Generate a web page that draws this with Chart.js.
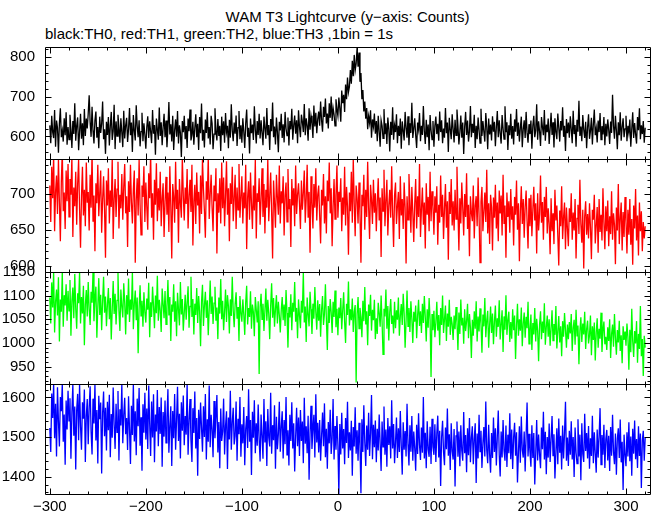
<!DOCTYPE html>
<html>
<head>
<meta charset="utf-8">
<title>WAM T3 Lightcurve</title>
<script src="https://cdn.jsdelivr.net/npm/chart.js@4.4.0/dist/chart.umd.min.js"></script>
<style>
  body { margin: 0; background: #fff; }
  #wrap { position: relative; width: 652px; height: 515px; overflow: hidden; font-family: 'Liberation Sans', Arial, sans-serif; color: #000; }
  .texto { position: absolute; font-size: 15px; line-height: 15px; white-space: nowrap; }
  canvas { position: absolute; left: 0; }
</style>
</head>
<body>
<div id="wrap">
  <div class="texto" style="left:0; width:695px; text-align:center; top:9px;">WAM T3 Lightcurve (y−axis: Counts)</div>
  <div class="texto" style="left:45px; top:26px;">black:TH0, red:TH1, green:TH2, blue:TH3 ,1bin = 1s</div>
</div>
<script>
// Primer bin y ancho del bin (1bin = 1s)
const t0 = -300;
const binSize = 1;

// TH0 (negro)
const th0 = [
  628,583,652,611,596,667,574,640,622,559,633,671,598,615,587,646,603,661,579,624,
  592,655,618,571,639,606,684,589,627,648,565,612,657,594,633,578,669,601,645,620,
  658,704,636,599,675,614,582,641,663,597,624,570,650,609,632,688,593,618,556,637,
  604,649,577,626,662,591,613,680,568,638,601,655,622,584,646,610,573,665,595,628,
  647,586,619,672,603,635,561,654,614,590,679,626,598,641,575,612,660,588,633,605,
  569,624,651,596,638,612,583,667,607,629,554,645,618,592,673,601,636,578,623,657,
  598,640,573,619,687,605,631,587,652,566,616,643,599,664,582,628,609,548,639,611,
  652,593,626,571,645,613,668,590,604,637,579,621,656,598,632,566,649,608,683,589,
  617,572,643,609,661,595,624,580,652,633,568,606,671,614,590,644,601,627,563,650,
  603,638,584,659,611,627,570,642,597,681,615,588,635,607,653,576,622,664,593,628,
  584,646,612,571,633,668,599,622,557,645,608,630,591,676,617,582,639,604,657,595,
  641,609,578,650,621,594,672,603,629,566,644,613,686,598,625,580,648,611,560,637,
  615,657,596,631,585,662,620,602,648,577,639,618,670,592,628,653,607,641,583,666,
  624,598,655,637,611,682,603,646,628,589,671,617,652,634,596,678,625,660,608,644,
  663,627,688,641,612,675,649,696,633,658,620,684,647,701,639,672,655,627,694,668,
  652,698,671,637,716,684,705,662,731,694,749,712,726,768,733,791,752,806,767,784,
  824,776,812,738,760,694,717,663,688,645,672,618,651,634,666,597,643,625,658,607,
  639,588,652,613,574,641,627,595,669,606,633,581,648,619,562,637,604,674,592,628,
  611,656,583,627,601,645,569,638,614,590,662,622,597,651,578,633,609,685,596,620,
  646,603,571,635,618,659,588,627,604,677,613,581,642,598,630,565,654,616,592,639,
  574,627,650,606,632,589,663,611,641,583,620,597,672,608,635,561,647,618,593,656,
  619,585,642,603,668,628,580,611,653,597,635,556,624,662,604,640,587,613,677,598,
  632,609,655,571,627,593,648,616,583,670,601,639,612,587,659,624,568,645,605,630,
  590,651,612,637,575,623,664,598,641,607,582,654,620,593,676,611,636,566,628,603,
  657,594,626,580,643,612,669,601,635,587,622,650,573,618,641,596,662,609,584,631,
  606,640,569,627,652,598,615,681,592,638,613,576,649,624,603,667,589,630,611,645,
  581,619,660,604,636,572,646,611,593,658,622,587,639,615,674,599,627,563,644,608,
  635,597,651,618,583,665,606,629,574,642,612,690,601,625,588,654,617,596,637,570,
  623,656,594,614,647,580,631,668,603,621,585,640,611,659,592,626,605,649,578,632,
  600,643,617,581,638,609,705,627,594,652,615,568,636,603,661,589,624,646,598,619,
  652,588,627,609,643,574,618,661,596,634,605,582,649,616,671,593,628,606,639,584,622
];

// TH1 (rojo)
const th1 = [
  712,661,738,694,755,648,703,726,672,749,689,634,717,760,676,702,651,733,690,742,
  668,721,699,752,640,709,683,731,657,714,748,679,625,697,738,670,706,655,744,688,
  703,649,727,681,759,662,698,620,715,687,741,669,701,733,646,692,725,678,611,719,
  684,736,659,705,682,750,637,693,721,668,707,745,652,699,680,728,664,710,742,673,
  697,626,718,675,741,688,659,706,733,604,691,722,670,748,685,643,712,696,739,661,
  716,682,650,729,694,758,667,701,636,720,685,743,662,708,677,731,655,694,715,640,
  689,724,671,702,647,739,683,610,714,696,660,745,679,706,632,721,688,667,752,698,
  663,709,686,735,652,697,720,675,741,628,690,713,658,730,684,703,645,726,672,749,
  707,676,639,718,692,751,665,699,727,681,648,712,690,736,617,701,674,722,659,744,
  680,723,655,697,746,671,708,634,715,686,738,662,694,727,651,709,678,742,667,696,
  725,659,702,680,741,623,695,718,664,730,687,651,712,677,748,638,701,689,722,657,
  693,736,668,714,645,706,681,749,662,697,730,674,610,719,688,653,727,695,671,740,
  659,704,687,725,642,698,716,661,735,679,693,626,721,684,708,655,740,672,699,715,
  686,651,719,678,702,733,660,694,741,667,703,618,725,689,652,714,681,736,663,699,
  712,670,631,706,684,728,659,697,645,719,690,744,673,708,627,682,721,665,698,740,
  667,703,689,722,648,695,671,738,656,710,683,615,702,676,731,660,749,687,641,712,
  694,659,716,672,604,699,683,727,650,706,668,745,681,637,713,692,658,720,674,701,
  648,689,722,663,695,612,708,676,734,655,691,720,642,684,706,667,739,673,626,698,
  716,658,684,703,637,725,670,693,651,716,681,603,697,664,728,689,646,710,675,633,
  686,721,652,697,668,742,640,679,709,657,688,624,715,671,696,648,731,662,704,683,
  643,697,674,711,629,685,660,726,668,699,637,680,714,653,690,608,703,672,721,656,
  690,649,706,665,738,677,621,694,659,716,681,642,700,668,729,651,685,613,697,674,
  662,712,638,684,697,655,723,670,604,689,710,648,676,702,661,734,645,687,630,699,
  681,621,695,667,713,652,688,634,705,673,698,642,727,659,684,611,702,668,690,646,
  707,664,683,628,696,671,719,650,687,606,676,711,658,693,639,682,705,662,624,694,
  655,699,641,678,710,663,687,617,701,649,672,726,660,689,636,696,668,710,645,680,
  659,616,694,648,673,630,706,663,684,642,600,677,655,711,637,668,688,623,681,652,
  627,680,661,701,636,674,649,693,610,666,685,644,720,658,632,678,596,669,690,643,
  672,638,687,653,609,678,664,699,631,656,682,618,693,647,671,635,708,660,623,683,
  648,691,627,669,644,704,636,673,657,602,681,649,714,630,666,688,621,675,640,696,
  662,617,678,643,693,629,665,601,684,652,707,635,670,614,688,648,676,620,661,638,655
];

// TH2 (verde)
const th2 = [
  1096,1041,1128,1075,1150,1022,1087,1113,1058,1139,1003,1092,1066,1150,1034,1101,1079,1124,1047,1110,
  1068,1133,1015,1089,1117,1052,1146,1073,1030,1105,1084,1150,1041,1097,1062,1121,995,1080,1112,1056,
  1129,1072,1038,1108,1085,1150,1046,1093,1119,1011,1076,1137,1059,1102,1027,1088,1140,1064,1098,1035,
  1081,1116,1050,1095,1007,1072,1131,1061,1104,1039,1090,1148,1068,1025,1113,1077,1054,1126,1085,1018,
  1101,1060,1136,1044,1092,1070,1150,1029,1083,1111,1048,1096,978,1074,1122,1057,1089,1034,1107,1065,
  1043,1094,1070,1127,1012,1086,1055,1119,1078,1031,1100,1063,1142,1047,1091,1069,1023,1115,1082,1052,
  1110,1039,1075,1133,1058,1097,1004,1081,1066,1124,1045,1088,1014,1106,1071,1037,1129,1060,1093,1026,
  1064,1102,1049,1085,1120,1032,1077,1140,1055,1093,1018,1083,1059,1116,1042,1099,1067,993,1087,1123,
  1036,1079,1108,1053,1090,1016,1071,1132,1061,1098,1040,1084,1119,1047,1075,1008,1096,1062,1135,1050,
  1089,1027,1066,1113,1044,1101,1078,1020,1092,1057,1140,1068,1033,1082,1107,1051,1076,1004,1099,1063,
  1045,1092,1060,1017,1086,1121,1039,1074,1055,1109,1030,1081,1065,1014,1097,1070,1043,1088,934,1076,
  1104,1050,1083,1025,1068,1115,1047,1091,1062,1008,1079,1126,1053,1095,1034,1072,1101,1041,1087,1059,
  1022,1069,1097,1048,1081,1036,1112,1063,990,1076,1054,1103,1027,1085,1066,1129,1045,1074,1010,1092,
  1058,1031,1089,1064,1150,1043,1077,1002,1096,1060,1035,1108,1071,1019,1083,1051,1118,1066,1028,1090,
  1047,1082,1013,1070,1099,1038,1061,1124,1050,985,1078,1042,1093,1065,1021,1087,1055,1111,1033,1072,
  1016,1075,1052,1095,1029,1068,1107,1045,1000,1083,1059,1130,1037,1071,1048,1094,1023,1066,1080,916,
  1061,1097,1030,1074,1054,1012,1089,1046,1118,1039,1067,995,1081,1057,1102,1026,1070,1048,1091,1008,
  1052,1019,1085,1063,1034,1100,1044,976,1072,1056,1113,1030,1078,1005,1065,1093,1040,1058,1020,1087,
  1031,1069,1049,1096,1015,1057,1082,1038,1104,1062,990,1047,1111,1035,1074,1023,1088,1051,1000,1066,
  1045,1079,1010,1058,1091,1036,1067,1021,1083,1042,1099,1054,1003,1071,1032,1095,1049,928,1061,1027,
  1068,1012,1043,1087,1026,1059,995,1074,1038,1100,1021,1050,1079,1004,1062,1034,1091,1017,1055,1040,
  1006,1058,1029,1076,1044,985,1064,1019,1092,1037,1053,998,1071,1025,1046,1083,1010,1061,1032,968,
  1049,1015,1067,1030,1088,1003,1056,1024,1073,1041,979,1060,1035,1095,1012,1047,1068,990,1038,1077,
  1021,1062,997,1045,1079,1013,1052,1034,1090,1007,1040,1069,981,1056,1028,1101,1017,1048,1066,1002,
  1044,1009,1071,1027,1058,966,1036,1083,1015,1050,1026,1075,993,1041,1064,1011,1055,1031,1087,998,
  1029,1060,985,1042,1018,1074,1003,1051,1026,961,1039,1067,1008,1045,1021,1084,996,1033,1058,1013,
  1050,994,1031,1069,1005,1040,1017,1078,988,1024,1057,1001,1035,972,1046,1013,1063,1027,990,1039,
  1008,1044,1020,1061,983,1032,1049,996,1070,1015,1037,955,1025,1054,1002,1041,1018,1066,987,1029,
  1047,999,1016,1058,974,1035,1006,1043,963,1022,1052,990,1030,1009,1064,981,1026,1045,997,1013,
  985,1033,1004,1050,968,1019,1039,992,1061,1010,975,1027,1001,1047,983,1016,957,1035,1006,1024,
  994,1041,1012,943,1028,980,1072,1003,970,1025,999,1046,958,1019,987,1078,972,1008,930,1015,990
];

// TH3 (azul)
const th3 = [
  1523,1462,1610,1548,1634,1497,1584,1451,1626,1539,1476,1601,1565,1634,1488,1557,1430,1592,1519,1617,
  1541,1598,1445,1562,1634,1503,1577,1418,1569,1609,1492,1634,1527,1468,1588,1546,1620,1437,1553,1596,
  1482,1575,1628,1513,1456,1597,1534,1634,1491,1568,1433,1604,1545,1587,1408,1561,1615,1502,1574,1466,
  1589,1517,1607,1449,1558,1498,1625,1531,1470,1584,1512,1616,1441,1570,1529,1634,1484,1556,1599,1507,
  1548,1467,1603,1520,1432,1579,1505,1634,1489,1565,1454,1597,1527,1624,1478,1550,1415,1583,1511,1612,
  1494,1572,1470,1630,1533,1452,1590,1499,1608,1436,1557,1514,1619,1477,1576,1508,1600,1425,1563,1501,
  1592,1485,1549,1621,1460,1528,1578,1427,1566,1497,1609,1468,1543,1627,1490,1559,1446,1588,1516,1605,
  1479,1553,1506,1634,1455,1541,1596,1492,1437,1573,1510,1615,1471,1548,1402,1569,1495,1587,1522,1463,
  1578,1500,1609,1443,1545,1488,1630,1474,1556,1519,1449,1591,1497,1551,1606,1461,1538,1421,1572,1490,
  1515,1597,1456,1528,1565,1419,1549,1494,1617,1468,1537,1574,1481,1503,1590,1440,1546,1507,1601,1450,
  1532,1484,1576,1429,1520,1553,1472,1621,1488,1543,1404,1564,1498,1593,1459,1535,1478,1582,1493,1438,
  1557,1503,1445,1596,1486,1540,1427,1571,1499,1476,1612,1458,1530,1492,1580,1420,1551,1469,1508,1589,
  1463,1526,1565,1446,1543,1482,1601,1455,1517,1428,1556,1490,1588,1471,1535,1413,1501,1574,1477,1549,
  1452,1568,1490,1539,1434,1599,1483,1527,1459,1554,1392,1511,1579,1470,1520,1556,1448,1608,1486,1536,
  1461,1543,1440,1502,1562,1477,1585,1449,1521,1420,1538,1484,1569,1457,1497,1596,1443,1528,1468,1553,
  1480,1356,1533,1456,1561,1471,1520,1431,1548,1485,1589,1447,1512,1466,1541,1402,1525,1476,1575,1458,
  1517,1440,1536,1479,1358,1545,1462,1580,1487,1427,1529,1468,1561,1452,1510,1606,1444,1531,1474,1542,
  1436,1521,1466,1557,1483,1414,1539,1475,1577,1455,1519,1425,1548,1480,1527,1446,1593,1471,1533,1434,
  1486,1549,1447,1522,1462,1566,1477,1405,1537,1468,1515,1451,1584,1481,1428,1530,1463,1553,1440,1514,
  1472,1415,1531,1457,1560,1480,1442,1524,1460,1601,1446,1511,1421,1540,1469,1450,1526,1432,1546,1475,
  1455,1532,1437,1509,1554,1448,1516,1376,1500,1541,1462,1429,1524,1469,1572,1453,1507,1417,1535,1464,
  1443,1520,1375,1503,1539,1450,1514,1426,1530,1466,1440,1563,1459,1505,1411,1522,1454,1548,1436,1499,
  1527,1431,1496,1535,1384,1509,1446,1556,1463,1516,1422,1485,1525,1451,1590,1467,1434,1531,1456,1410,
  1510,1447,1549,1462,1522,1428,1501,1567,1455,1400,1514,1448,1543,1466,1440,1529,1424,1506,1459,1560,
  1444,1519,1419,1500,1536,1453,1512,1385,1461,1527,1435,1552,1468,1448,1514,1413,1503,1587,1451,1508,
  1463,1425,1530,1447,1510,1380,1458,1543,1441,1506,1456,1421,1524,1469,1564,1443,1513,1406,1500,1448,
  1534,1437,1494,1553,1453,1507,1395,1462,1522,1431,1547,1460,1503,1418,1529,1446,1511,1589,1440,1499,
  1427,1516,1455,1540,1443,1500,1399,1524,1461,1433,1545,1451,1506,1391,1535,1457,1437,1559,1465,1510,
  1446,1528,1420,1497,1452,1554,1434,1512,1459,1410,1519,1448,1501,1573,1430,1505,1455,1531,1422,1494,
  1518,1441,1503,1414,1525,1453,1556,1462,1431,1509,1405,1496,1522,1447,1544,1436,1488,1366,1506,1455,
  1426,1512,1451,1537,1439,1501,1402,1521,1458,1542,1444,1495,1422,1527,1452,1509,1371,1491,1516,1440,1499
];

// Ticks del eje x (los menores cada 20 s)
const xTicks = [-300, -200, -100, 0, 100, 200, 300];
const xMinorStep = 20;
const xMin = -305;
const xMax = 325;

// Un panel por umbral, de arriba a abajo
const panels = [
  { data: th0, color: '#000000', top: 47,  bottom: 159, min: 543,  max: 826,  ticks: [600, 700, 800], minorStep: 20 },
  { data: th1, color: '#ff0000', top: 159, bottom: 272, min: 591,  max: 749,  ticks: [600, 650, 700], minorStep: 10 },
  { data: th2, color: '#00ff00', top: 272, bottom: 384, min: 913,  max: 1150, ticks: [950, 1000, 1050, 1100, 1150], minorStep: 10 },
  { data: th3, color: '#0000ff', top: 384, bottom: 494, min: 1356, max: 1634, ticks: [1400, 1500, 1600], minorStep: 20 }
];

const PAD = 12;

Chart.defaults.font.family = "'Liberation Sans', Arial, sans-serif";
Chart.defaults.font.size = 15;
Chart.defaults.color = '#000';

function menores(min, max, step) {
  const out = [];
  for (let v = Math.ceil(min / step) * step; v <= max; v += step) out.push(v);
  return out;
}

// Marco y ticks hacia adentro en los cuatro lados
const marcoPlugin = {
  id: 'marco',
  afterDatasetsDraw(chart, args, opts) {
    const { ctx, chartArea: a } = chart;
    const sx = chart.scales.x, sy = chart.scales.y;
    const L = Math.round(a.left) + 0.5, R = Math.round(a.right) + 0.5;
    const T = Math.round(a.top) + 0.5, B = Math.round(a.bottom) + 0.5;
    ctx.save();
    ctx.strokeStyle = '#000';
    ctx.lineWidth = 1;
    ctx.beginPath();
    ctx.rect(L, T, R - L, B - T);

    menores(xMin, xMax, xMinorStep).forEach(v => {
      const len = xTicks.includes(v) ? 6 : 3;
      const px = Math.round(sx.getPixelForValue(v)) + 0.5;
      ctx.moveTo(px, T); ctx.lineTo(px, T + len);
      ctx.moveTo(px, B); ctx.lineTo(px, B - len);
    });
    menores(opts.min, opts.max, opts.minorStep).forEach(v => {
      const len = opts.ticks.includes(v) ? 6 : 3;
      const py = Math.round(sy.getPixelForValue(v)) + 0.5;
      ctx.moveTo(L, py); ctx.lineTo(L + len, py);
      ctx.moveTo(R, py); ctx.lineTo(R - len, py);
    });
    ctx.stroke();
    ctx.restore();
  }
};

const wrap = document.getElementById('wrap');

panels.forEach((p, i) => {
  const ultimo = i === panels.length - 1;
  const canvasTop = p.top - PAD;
  const canvasH = ultimo ? 515 - canvasTop : (p.bottom - p.top) + 2 * PAD;

  const canvas = document.createElement('canvas');
  canvas.width = 652;
  canvas.height = canvasH;
  canvas.style.top = canvasTop + 'px';
  canvas.style.width = '652px';
  canvas.style.height = canvasH + 'px';
  wrap.appendChild(canvas);

  const puntos = p.data.map((v, k) => ({ x: t0 + k * binSize, y: v }));

  new Chart(canvas.getContext('2d'), {
    type: 'line',
    data: {
      datasets: [{
        data: puntos,
        borderColor: p.color,
        borderWidth: 1.3,
        pointRadius: 0,
        tension: 0,
        fill: false
      }]
    },
    options: {
      responsive: false,
      animation: false,
      devicePixelRatio: 1,
      events: [],
      layout: { padding: { top: PAD, bottom: ultimo ? 0 : PAD, left: 0, right: 2 } },
      plugins: {
        legend: { display: false },
        tooltip: { enabled: false },
        marco: { min: p.min, max: p.max, ticks: p.ticks, minorStep: p.minorStep }
      },
      scales: {
        x: {
          type: 'linear',
          min: xMin,
          max: xMax,
          display: ultimo,
          afterBuildTicks: s => { s.ticks = xTicks.map(v => ({ value: v })); },
          afterFit: s => {
            s.height = ultimo ? 21 : 0;
            s.paddingLeft = 0; s.paddingRight = 0;
          },
          grid: { display: false, drawTicks: false },
          border: { display: false },
          ticks: {
            padding: 4,
            maxRotation: 0,
            autoSkip: false,
            callback: v => v < 0 ? '\u2212' + Math.abs(v) : String(v)
          }
        },
        y: {
          type: 'linear',
          min: p.min,
          max: p.max,
          afterBuildTicks: s => { s.ticks = p.ticks.map(v => ({ value: v })); },
          afterFit: s => {
            s.width = 45;
            s.paddingTop = 0; s.paddingBottom = 0;
          },
          grid: { display: false, drawTicks: false },
          border: { display: false },
          ticks: { padding: 10, autoSkip: false, callback: v => String(v) }
        }
      }
    },
    plugins: [marcoPlugin]
  });
});
</script>
</body>
</html>
